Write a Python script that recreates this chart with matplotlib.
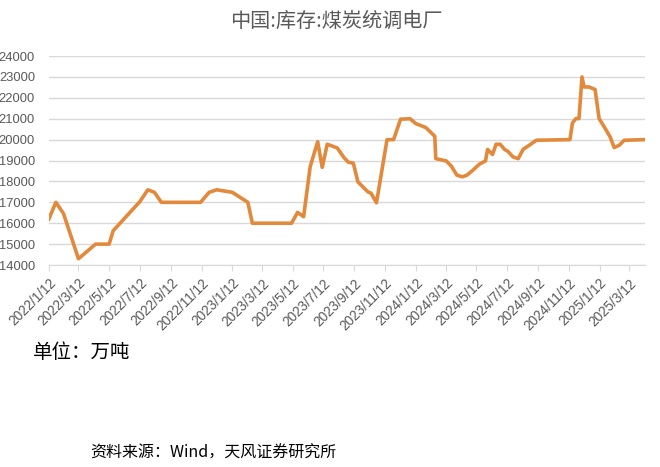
import matplotlib
matplotlib.use('Agg')
import matplotlib.pyplot as plt
import pandas as pd

dates = ['2022-01-12', '2022-01-26', '2022-02-10', '2022-03-12', '2022-04-15', '2022-05-12',
         '2022-05-20', '2022-07-12', '2022-07-28', '2022-08-10', '2022-08-24', '2022-11-10',
         '2022-11-27', '2022-12-12', '2023-01-12', '2023-02-12', '2023-02-21', '2023-05-10',
         '2023-05-22', '2023-06-03', '2023-06-16', '2023-07-01', '2023-07-10', '2023-07-20',
         '2023-08-09', '2023-08-22', '2023-08-31', '2023-09-10', '2023-09-19', '2023-10-09',
         '2023-10-15', '2023-10-26', '2023-11-16', '2023-11-29', '2023-12-13', '2024-01-01',
         '2024-01-12', '2024-02-01', '2024-02-08', '2024-02-19', '2024-02-21', '2024-03-13',
         '2024-03-23', '2024-04-03', '2024-04-14', '2024-04-23', '2024-05-05', '2024-05-18',
         '2024-05-30', '2024-06-03', '2024-06-13', '2024-06-20', '2024-06-28', '2024-07-07',
         '2024-07-13', '2024-07-24', '2024-08-03', '2024-08-13', '2024-08-25', '2024-09-08',
         '2024-11-14', '2024-11-19', '2024-11-26', '2024-12-02', '2024-12-08', '2024-12-12',
         '2024-12-22', '2025-01-03', '2025-01-11', '2025-01-22', '2025-02-02', '2025-02-10',
         '2025-02-20', '2025-03-02', '2025-04-12']
stock = [16200, 17000, 16470, 14300, 15000, 15000,
         15640, 17030, 17600, 17480, 17000, 17000,
         17480, 17600, 17480, 17000, 16000, 16000,
         16520, 16310, 18700, 19900, 18670, 19780,
         19600, 19150, 18920, 18870, 17980, 17500,
         17440, 16980, 20000, 20000, 20980, 21000,
         20770, 20580, 20420, 20160, 19090, 18980,
         18730, 18300, 18220, 18300, 18540, 18830,
         18980, 19530, 19290, 19780, 19780, 19530,
         19450, 19170, 19090, 19540, 19730, 19970,
         20000, 20800, 21010, 21010, 23000, 22520,
         22520, 22400, 21010, 20580, 20130, 19620,
         19730, 19970, 20000]
tick_labels = ['2022/1/12', '2022/3/12', '2022/5/12', '2022/7/12', '2022/9/12', '2022/11/12',
               '2023/1/12', '2023/3/12', '2023/5/12', '2023/7/12', '2023/9/12', '2023/11/12',
               '2024/1/12', '2024/3/12', '2024/5/12', '2024/7/12', '2024/9/12', '2024/11/12',
               '2025/1/12', '2025/3/12']
title = '中国:库存:煤炭统调电厂'
unit = '单位：万吨'
source = '资料来源：Wind，天风证券研究所'

x = pd.to_datetime(dates)
ticks = pd.to_datetime(tick_labels, format='%Y/%m/%d')
grey = '#595959'

fig = plt.figure(figsize=(6.6, 4.67), dpi=100)
ax = fig.add_axes([0.074, 0.4325, 0.903, 0.4475])
ax.plot(x, stock, color='#E2893B', lw=2.6, solid_joinstyle='round')

ax.set_ylim(14000, 24000)
ax.set_yticks(range(14000, 24001, 1000))
ax.set_xlim(pd.Timestamp('2022-01-12'), pd.Timestamp('2025-04-12'))
ax.set_xticks(ticks)
ax.set_xticklabels(tick_labels, rotation=45, ha='right', rotation_mode='anchor')
ax.grid(axis='y', color='#d9d9d9', lw=1)
ax.set_axisbelow(True)
for s in ['top', 'right', 'left']:
    ax.spines[s].set_visible(False)
ax.spines['bottom'].set_color('#d9d9d9')
ax.tick_params(axis='y', length=0, pad=10, labelsize=9.3, labelcolor=grey)
ax.tick_params(axis='x', length=4, color='#d9d9d9', pad=4, labelsize=9.8, labelcolor=grey)
for lb in ax.get_xticklabels() + ax.get_yticklabels():
    lb.set_family('Liberation Sans')

fig.text(0.51, 0.955, title, ha='center', va='center', fontsize=14.5, color=grey,
         family=['Noto Sans CJK SC', 'DejaVu Sans'])
fig.text(0.05, 0.246, unit, ha='left', va='center', fontsize=14, color='black',
         family=['Noto Sans CJK SC', 'DejaVu Sans'])
fig.text(0.136, 0.03, source, ha='left', va='center', fontsize=11.5, color='black',
         family=['Noto Sans CJK SC', 'DejaVu Sans'])

fig.savefig('out.png', dpi=100)
